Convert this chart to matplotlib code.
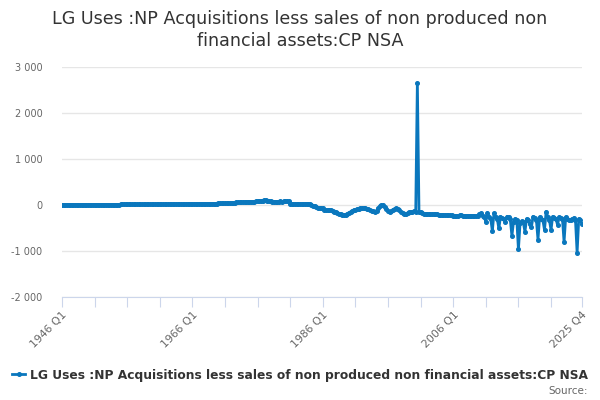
import matplotlib
matplotlib.use('Agg')
import matplotlib.pyplot as plt
import numpy as np

# quarterly values, 1946 Q1 .. 2025 Q4 (one row per year)
years = list(range(1946, 2026))
values_by_year = [
	[5, 5, 5, 5], [5, 5, 5, 5], [6, 6, 6, 6], [6, 6, 6, 6], [7, 7, 7, 7],		# 1946-1950
	[8, 8, 8, 8], [8, 8, 8, 8], [9, 9, 9, 9], [10, 10, 10, 10], [11, 11, 11, 11],	# 1951-1955
	[12, 12, 12, 12], [13, 13, 13, 13], [14, 14, 14, 14], [15, 15, 15, 15], [17, 17, 17, 17],
	[18, 18, 18, 18], [20, 20, 20, 20], [21, 21, 21, 21], [22, 22, 22, 22], [24, 24, 24, 24],
	[26, 26, 26, 26], [28, 28, 28, 28], [30, 30, 30, 30], [32, 32, 32, 32], [35, 35, 35, 35],
	[38, 38, 38, 38], [48, 50, 52, 55], [58, 60, 62, 64], [66, 68, 70, 72], [72, 74, 76, 78],	# 1971-1975
	[80, 84, 88, 92], [98, 100, 96, 82], [78, 76, 76, 75], [74, 76, 78, 76], [78, 80, 82, 78],
	[30, 26, 24, 22], [20, 20, 22, 24], [26, 28, 28, 26], [22, 10, -15, -30], [-45, -60, -70, -70],	# 1981-1985
	[-75, -105, -110, -110], [-110, -115, -125, -145], [-160, -175, -185, -200], [-215, -220, -210, -190], [-170, -150, -130, -115],
	[-100, -90, -80, -72], [-68, -70, -75, -85], [-95, -110, -125, -140], [-145, -120, -70, -25], [-5, -10, -40, -80],	# 1991-1995
	[-120, -145, -130, -100], [-80, -70, -80, -110], [-150, -180, -195, -190], [-175, -160, -150, -145], [-140, -145, 2650, -145],
	[-160, -175, -185, -190], [-195, -200, -200, -200], [-200, -205, -205, -210], [-210, -215, -215, -220], [-220, -220, -225, -225],	# 2001-2005
	[-230, -230, -230, -230], [-225, -225, -230, -230], [-230, -230, -235, -235], [-235, -240, -240, -235], [-200, -180, -230, -260],
	[-360, -170, -250, -300], [-560, -180, -260, -300], [-510, -250, -280, -300], [-360, -250, -270, -310], [-670, -360, -300, -320],	# 2011-2015
	[-965, -400, -350, -380], [-580, -300, -330, -420], [-470, -250, -280, -320], [-750, -260, -300, -330], [-540, -145, -250, -330],
	[-540, -250, -280, -300], [-430, -260, -280, -300], [-800, -260, -300, -330], [-330, -300, -280, -330], [-1035, -300, -330, -410],	# 2021-2025
]
quarters = [f'{y} Q{q}' for y in years for q in range(1, 5)]
values = [v for row in values_by_year for v in row]

tick_labels = {'1946 Q1', '1966 Q1', '1986 Q1', '2006 Q1', '2025 Q4'}
y_ticks = [-2000, -1000, 0, 1000, 2000, 3000]
title = 'LG Uses :NP Acquisitions less sales of non produced non\nfinancial assets:CP NSA'
series_name = 'LG Uses :NP Acquisitions less sales of non produced non financial assets:CP NSA'

c_line = '#0a77bd'

plt.rcParams['font.family'] = ['DejaVu Sans']

fig = plt.figure(figsize=(6, 4), dpi=100)
ax = fig.add_axes([62/600, 1 - 297/400, 520/600, 230/400])

x = np.arange(len(values))
ax.plot(x, values, color=c_line, linewidth=2, marker='o', markersize=2.6, label=series_name, zorder=3)

ax.set_xlim(0, len(values) - 1)
ax.set_ylim(-2000, 3000)

# y axis
ax.set_yticks(y_ticks)
ax.set_yticklabels([f'{v:,}'.replace(',', ' ') for v in y_ticks], fontsize=7, color='#666666')
ax.tick_params(axis='y', length=0, pad=14)
ax.grid(axis='y', color='#e6e6e6', linewidth=1)
ax.set_axisbelow(True)

# x axis
minor = list(range(0, len(values), 20)) + [len(values) - 1]
ax.set_xticks(minor)
ax.set_xticklabels([quarters[i] if quarters[i] in tick_labels else '' for i in minor],
	rotation=45, ha='right', rotation_mode='anchor', fontsize=7.8, color='#666666')
ax.tick_params(axis='x', length=7, color='#ccd6eb', pad=2)

for s in ['top', 'right', 'left']:
	ax.spines[s].set_visible(False)
ax.spines['bottom'].set_color('#ccd6eb')

fig.text(0.5, 0.975, title, ha='center', va='top', fontsize=12.6, color='#333333', linespacing=1.3)

leg = fig.legend(loc='center', bbox_to_anchor=(0.5, 1 - 375/400), frameon=False,
	prop={'size': 8.8, 'weight': 'bold'}, handlelength=1.0, handletextpad=0.4, borderaxespad=0)
for t in leg.get_texts():
	t.set_color('#333333')

fig.text(0.98, 1 - 391/400, 'Source:', ha='right', va='center', fontsize=7.5, color='#666666')

fig.savefig('out.png', dpi=100)
